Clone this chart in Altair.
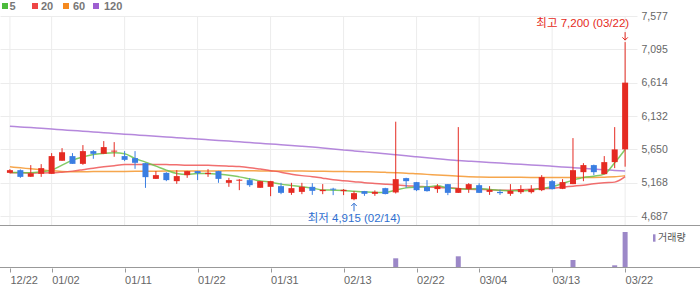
import json
import altair as alt
import pandas as pd

# ---------------- data ----------------
dates = ["12/22", "12/26", "12/27", "12/28", "01/02", "01/03", "01/04", "01/05", "01/08", "01/09",
         "01/10", "01/11", "01/12", "01/15", "01/16", "01/17", "01/18", "01/19", "01/22", "01/23",
         "01/24", "01/25", "01/26", "01/29", "01/30", "01/31", "02/01", "02/02", "02/05", "02/06",
         "02/07", "02/08", "02/13", "02/14", "02/15", "02/16", "02/19", "02/20", "02/21", "02/22",
         "02/23", "02/26", "02/27", "02/28", "02/29", "03/04", "03/05", "03/06", "03/07", "03/08",
         "03/11", "03/12", "03/13", "03/14", "03/15", "03/18", "03/19", "03/20", "03/21", "03/22"]

opens = [5311, 5350, 5253, 5297, 5297, 5485, 5553, 5441, 5625, 5586,
         5618, 5553, 5524, 5451, 5224, 5311, 5191, 5278, 5336, 5293,
         5336, 5167, 5198, 5206, 5095, 5109, 5119, 5022, 5036, 5109,
         5047, 5082, 5047, 4930, 5047, 5008, 5090, 5028, 5235, 5177,
         5109, 5076, 5148, 5022, 5076, 5133, 5036, 5036, 5008, 5032,
         5032, 5061, 5191, 5080, 5148, 5321, 5423, 5292, 5466, 5650]
highs = [5365, 5360, 5423, 5437, 5596, 5668, 5596, 5712, 5640, 5770,
         5755, 5625, 5625, 5455, 5336, 5320, 5350, 5340, 5340, 5365,
         5340, 5239, 5220, 5235, 5195, 5195, 5167, 5167, 5167, 5162,
         5149, 5095, 5077, 5047, 5050, 5057, 5095, 6050, 5240, 5180,
         5206, 5148, 5150, 5972, 5162, 5162, 5119, 5066, 5148, 5133,
         5133, 5278, 5206, 5220, 5813, 5451, 5430, 5553, 5972, 7200]
lows = [5303, 5239, 5253, 5253, 5297, 5485, 5441, 5427, 5514, 5586,
        5543, 5480, 5369, 5094, 5224, 5191, 5152, 5239, 5206, 5253,
        5167, 5109, 5061, 5109, 5095, 4974, 5003, 4993, 5003, 4993,
        5003, 4989, 4989, 4915, 4979, 4979, 5000, 5013, 5094, 5047,
        5040, 5022, 4989, 5020, 5022, 5020, 4993, 4993, 4979, 5008,
        5013, 5047, 5070, 5076, 5148, 5191, 5278, 5292, 5379, 5400]
closes = [5350, 5253, 5307, 5379, 5553, 5610, 5441, 5625, 5586, 5683,
          5632, 5499, 5456, 5249, 5278, 5206, 5264, 5336, 5307, 5311,
          5224, 5206, 5212, 5133, 5191, 5191, 5022, 5090, 5109, 5051,
          5066, 5068, 5066, 5018, 5008, 5037, 5005, 5220, 5191, 5061,
          5047, 5119, 5022, 5090, 5148, 5022, 5066, 5018, 5051, 5076,
          5076, 5249, 5076, 5177, 5350, 5423, 5321, 5466, 5650, 6614]
volumes = [6, 5, 6, 7, 8, 7, 6, 8, 5, 7,
           6, 5, 6, 9, 5, 5, 6, 4, 4, 5,
           5, 4, 4, 4, 5, 6, 5, 4, 4, 4,
           3, 3, 4, 6, 4, 4, 5, 970, 100, 8,
           7, 6, 6, 1170, 90, 80, 7, 5, 6, 6,
           7, 90, 8, 9, 800, 100, 9, 90, 270, 3600]

ma5 = [5317, 5317, 5311, 5326, 5350, 5422, 5495, 5542, 5577, 5592,
       5600, 5586, 5519, 5466, 5408, 5350, 5302, 5288, 5302, 5302,
       5292, 5278, 5253, 5224, 5195, 5177, 5148, 5129, 5109, 5090,
       5065, 5061, 5057, 5046, 5036, 5028, 5028, 5061, 5094, 5104,
       5109, 5123, 5094, 5080, 5075, 5086, 5071, 5061, 5051, 5051,
       5061, 5086, 5109, 5158, 5206, 5245, 5263, 5292, 5456, 5649]
ma20 = [5314, 5311, 5310, 5310, 5311, 5321, 5336, 5357, 5379, 5398,
        5415, 5430, 5433, 5433, 5433, 5430, 5427, 5422, 5422, 5420,
        5415, 5408, 5401, 5386, 5365, 5343, 5321, 5292, 5271, 5256,
        5234, 5213, 5198, 5184, 5169, 5158, 5148, 5138, 5126, 5119,
        5109, 5100, 5094, 5086, 5075, 5071, 5068, 5061, 5061, 5068,
        5075, 5083, 5090, 5104, 5119, 5133, 5155, 5169, 5177, 5256]
ma60 = [5398, 5383, 5369, 5355, 5340, 5331, 5328, 5328, 5329, 5330,
        5331, 5332, 5333, 5334, 5335, 5336, 5337, 5338, 5338, 5339,
        5339, 5340, 5340, 5340, 5339, 5338, 5337, 5336, 5336, 5335,
        5333, 5331, 5330, 5328, 5326, 5324, 5318, 5313, 5307, 5298,
        5289, 5280, 5271, 5263, 5256, 5252, 5249, 5248, 5247, 5246,
        5245, 5245, 5245, 5245, 5245, 5245, 5245, 5249, 5253, 5271]
ma120 = [5986, 5975, 5965, 5954, 5944, 5933, 5923, 5912, 5902, 5891,
         5881, 5870, 5860, 5849, 5839, 5829, 5819, 5809, 5800, 5790,
         5780, 5770, 5759, 5749, 5738, 5728, 5717, 5707, 5696, 5684,
         5670, 5656, 5642, 5628, 5614, 5600, 5586, 5572, 5558, 5543,
         5528, 5513, 5500, 5490, 5480, 5470, 5461, 5452, 5443, 5434,
         5425, 5416, 5406, 5396, 5386, 5376, 5366, 5356, 5346, 5336]

tick_labels = ["12/22", "01/02", "01/11", "01/22", "01/31", "02/13", "02/22", "03/04", "03/13", "03/22"]
y_ticks = [4687, 5168, 5650, 6132, 6614, 7095, 7577]
ma_names = ["5", "20", "60", "120"]
vol_name = "거래량"

# ---------------- styles ----------------
RED = "#e52b22"
BLUE = "#3a7ee2"
VOLC = "#9c88c8"
GRID = "#ececec"
FONT = "Liberation Sans, Noto Sans CJK KR"
legend_colors = ["#4cbb3c", "#ee4545", "#f5891f", "#9e5fd1"]
line_colors = ["#6cc24a", "#ef5656", "#f5962e", "#a873d6"]

n = len(dates)
idx = list(range(n))
direction = ["up" if c >= o else "down" for o, c in zip(opens, closes)]
df = pd.DataFrame({"i": idx, "date": dates, "open": opens, "high": highs, "low": lows,
                   "close": closes, "vol": volumes, "dir": direction})
tick_idx = [dates.index(d) for d in tick_labels]

imax = highs.index(max(highs))
imin = lows.index(min(lows))
hi_df = df.loc[[imax]].copy()
hi_df["label"] = f"최고 {highs[imax]:,} ({dates[imax]})"
lo_df = df.loc[[imin]].copy()
lo_df["label"] = f"최저 {lows[imin]:,} ({dates[imin]})"

xs = alt.Scale(domain=[-0.472, 59.66], nice=False, zero=False)
x_axis = alt.Axis(values=tick_idx, labelExpr=f"{json.dumps(dates)}[datum.value]",
                  grid=False, domain=False, ticks=True, tickSize=4, tickColor="#999999",
                  labelAlign="left", labelBaseline="top", labelPadding=2, labelColor="#666666",
                  labelFont=FONT, labelFontSize=11, labelFlush=False, labelOverlap=False, title=None)
X = alt.X("i:Q", scale=xs, axis=x_axis, title=None)

ys = alt.Scale(domain=[3936.4, 7577], nice=False, zero=False)
y_axis = alt.Axis(orient="right", values=y_ticks, format=",d", grid=True, gridColor=GRID,
                  gridWidth=1, ticks=False, domain=False, labelColor="#666666", labelFont=FONT,
                  labelFontSize=10.5, labelPadding=4, labelOverlap=False, title=None)


def Yp(field):
    return alt.Y(f"{field}:Q", scale=ys, axis=y_axis, title=None)


C = alt.Color("dir:N", scale=alt.Scale(domain=["up", "down"], range=[RED, BLUE]), legend=None)
one = pd.DataFrame({"k": [0]})

layers = []
# vertical grid in price panel only
layers.append(alt.Chart(pd.DataFrame({"i": tick_idx})).mark_rule(color=GRID, strokeWidth=1).encode(
    x=X, y=alt.value(0), y2=alt.value(209)))

# moving averages (long ones drawn first)
for vals, col in reversed(list(zip([ma5, ma20, ma60, ma120], line_colors))):
    layers.append(alt.Chart(pd.DataFrame({"i": idx, "v": vals})).mark_line(
        color=col, strokeWidth=1.5, opacity=0.85, interpolate="monotone").encode(x=X, y=Yp("v")))

# candles
layers.append(alt.Chart(df).mark_rule(strokeWidth=1).encode(x=X, y=Yp("low"), y2="high:Q", color=C))
layers.append(alt.Chart(df).mark_bar(size=6).encode(x=X, y=Yp("open"), y2="close:Q", color=C))

# max annotation
layers.append(alt.Chart(hi_df).mark_text(align="right", baseline="middle", dx=4, dy=-18, color=RED,
                                         font=FONT, fontSize=11.5).encode(x=X, y=Yp("high"), text="label:N"))
layers.append(alt.Chart(hi_df).mark_rule(color=RED, strokeWidth=1, yOffset=-10, y2Offset=-2).encode(
    x=X, y=Yp("high"), y2="high:Q"))
layers.append(alt.Chart(hi_df).mark_point(shape="M-1,-1L0,0L1,-1", size=30, filled=False, color=RED,
                                          strokeWidth=1, opacity=1, yOffset=-2).encode(x=X, y=Yp("high")))
# min annotation
layers.append(alt.Chart(lo_df).mark_text(align="center", baseline="middle", dy=18.5, color="#2e6fd1",
                                         font=FONT, fontSize=11.5).encode(x=X, y=Yp("low"), text="label:N"))
layers.append(alt.Chart(lo_df).mark_rule(color="#2e6fd1", strokeWidth=1, yOffset=3, y2Offset=11).encode(
    x=X, y=Yp("low"), y2="low:Q"))
layers.append(alt.Chart(lo_df).mark_point(shape="M-1,1L0,0L1,1", size=30, filled=False, color="#2e6fd1",
                                          strokeWidth=1, opacity=1, yOffset=3).encode(x=X, y=Yp("low")))

# top legend
sq_x = [2, 32, 63, 93]
tx_x = [9.5, 41, 73, 104]
for name, col, sx, tx in zip(ma_names, legend_colors, sq_x, tx_x):
    layers.append(alt.Chart(one).mark_rect(color=col).encode(
        x=alt.value(sx), x2=alt.value(sx + 6), y=alt.value(-13), y2=alt.value(-7)))
    layers.append(alt.Chart(one).mark_text(text=name, align="left", baseline="middle", fontWeight="bold",
                                           color="#777777", font=FONT, fontSize=11).encode(
        x=alt.value(tx), y=alt.value(-9.5)))

# volume legend
layers.append(alt.Chart(one).mark_rect(color=VOLC).encode(
    x=alt.value(653), x2=alt.value(655.5), y=alt.value(218.3), y2=alt.value(225.7)))
layers.append(alt.Chart(one).mark_text(text=vol_name, align="left", baseline="middle", color="#555555",
                                       font="Noto Sans CJK KR", fontSize=10).encode(
    x=alt.value(658), y=alt.value(222)))

price = alt.layer(*layers)

vol = alt.Chart(df).mark_bar(size=5, color=VOLC).encode(
    x=X, y=alt.Y("vol:Q", scale=alt.Scale(domain=[0, 25200], nice=False, zero=True), axis=None))

sep = alt.Chart(one).mark_rule(color="#999999", strokeWidth=1).encode(
    x=alt.value(0), x2=alt.value(700), y=alt.value(209.5), y2=alt.value(209.5))
base = alt.Chart(one).mark_rule(color="#999999", strokeWidth=1).encode(
    x=alt.value(0), x2=alt.value(700), y=alt.value(251.5), y2=alt.value(251.5))

chart = alt.layer(price, alt.layer(vol, sep, base)).resolve_scale(y="independent").properties(
    width=637, height=252,
    autosize=alt.AutoSizeParams(type="none"),
    padding={"left": 0, "top": 16, "right": 63, "bottom": 21},
    background="white",
).configure_view(stroke=None)

chart.save("out.html", embed_options={"renderer": "svg", "actions": False})
